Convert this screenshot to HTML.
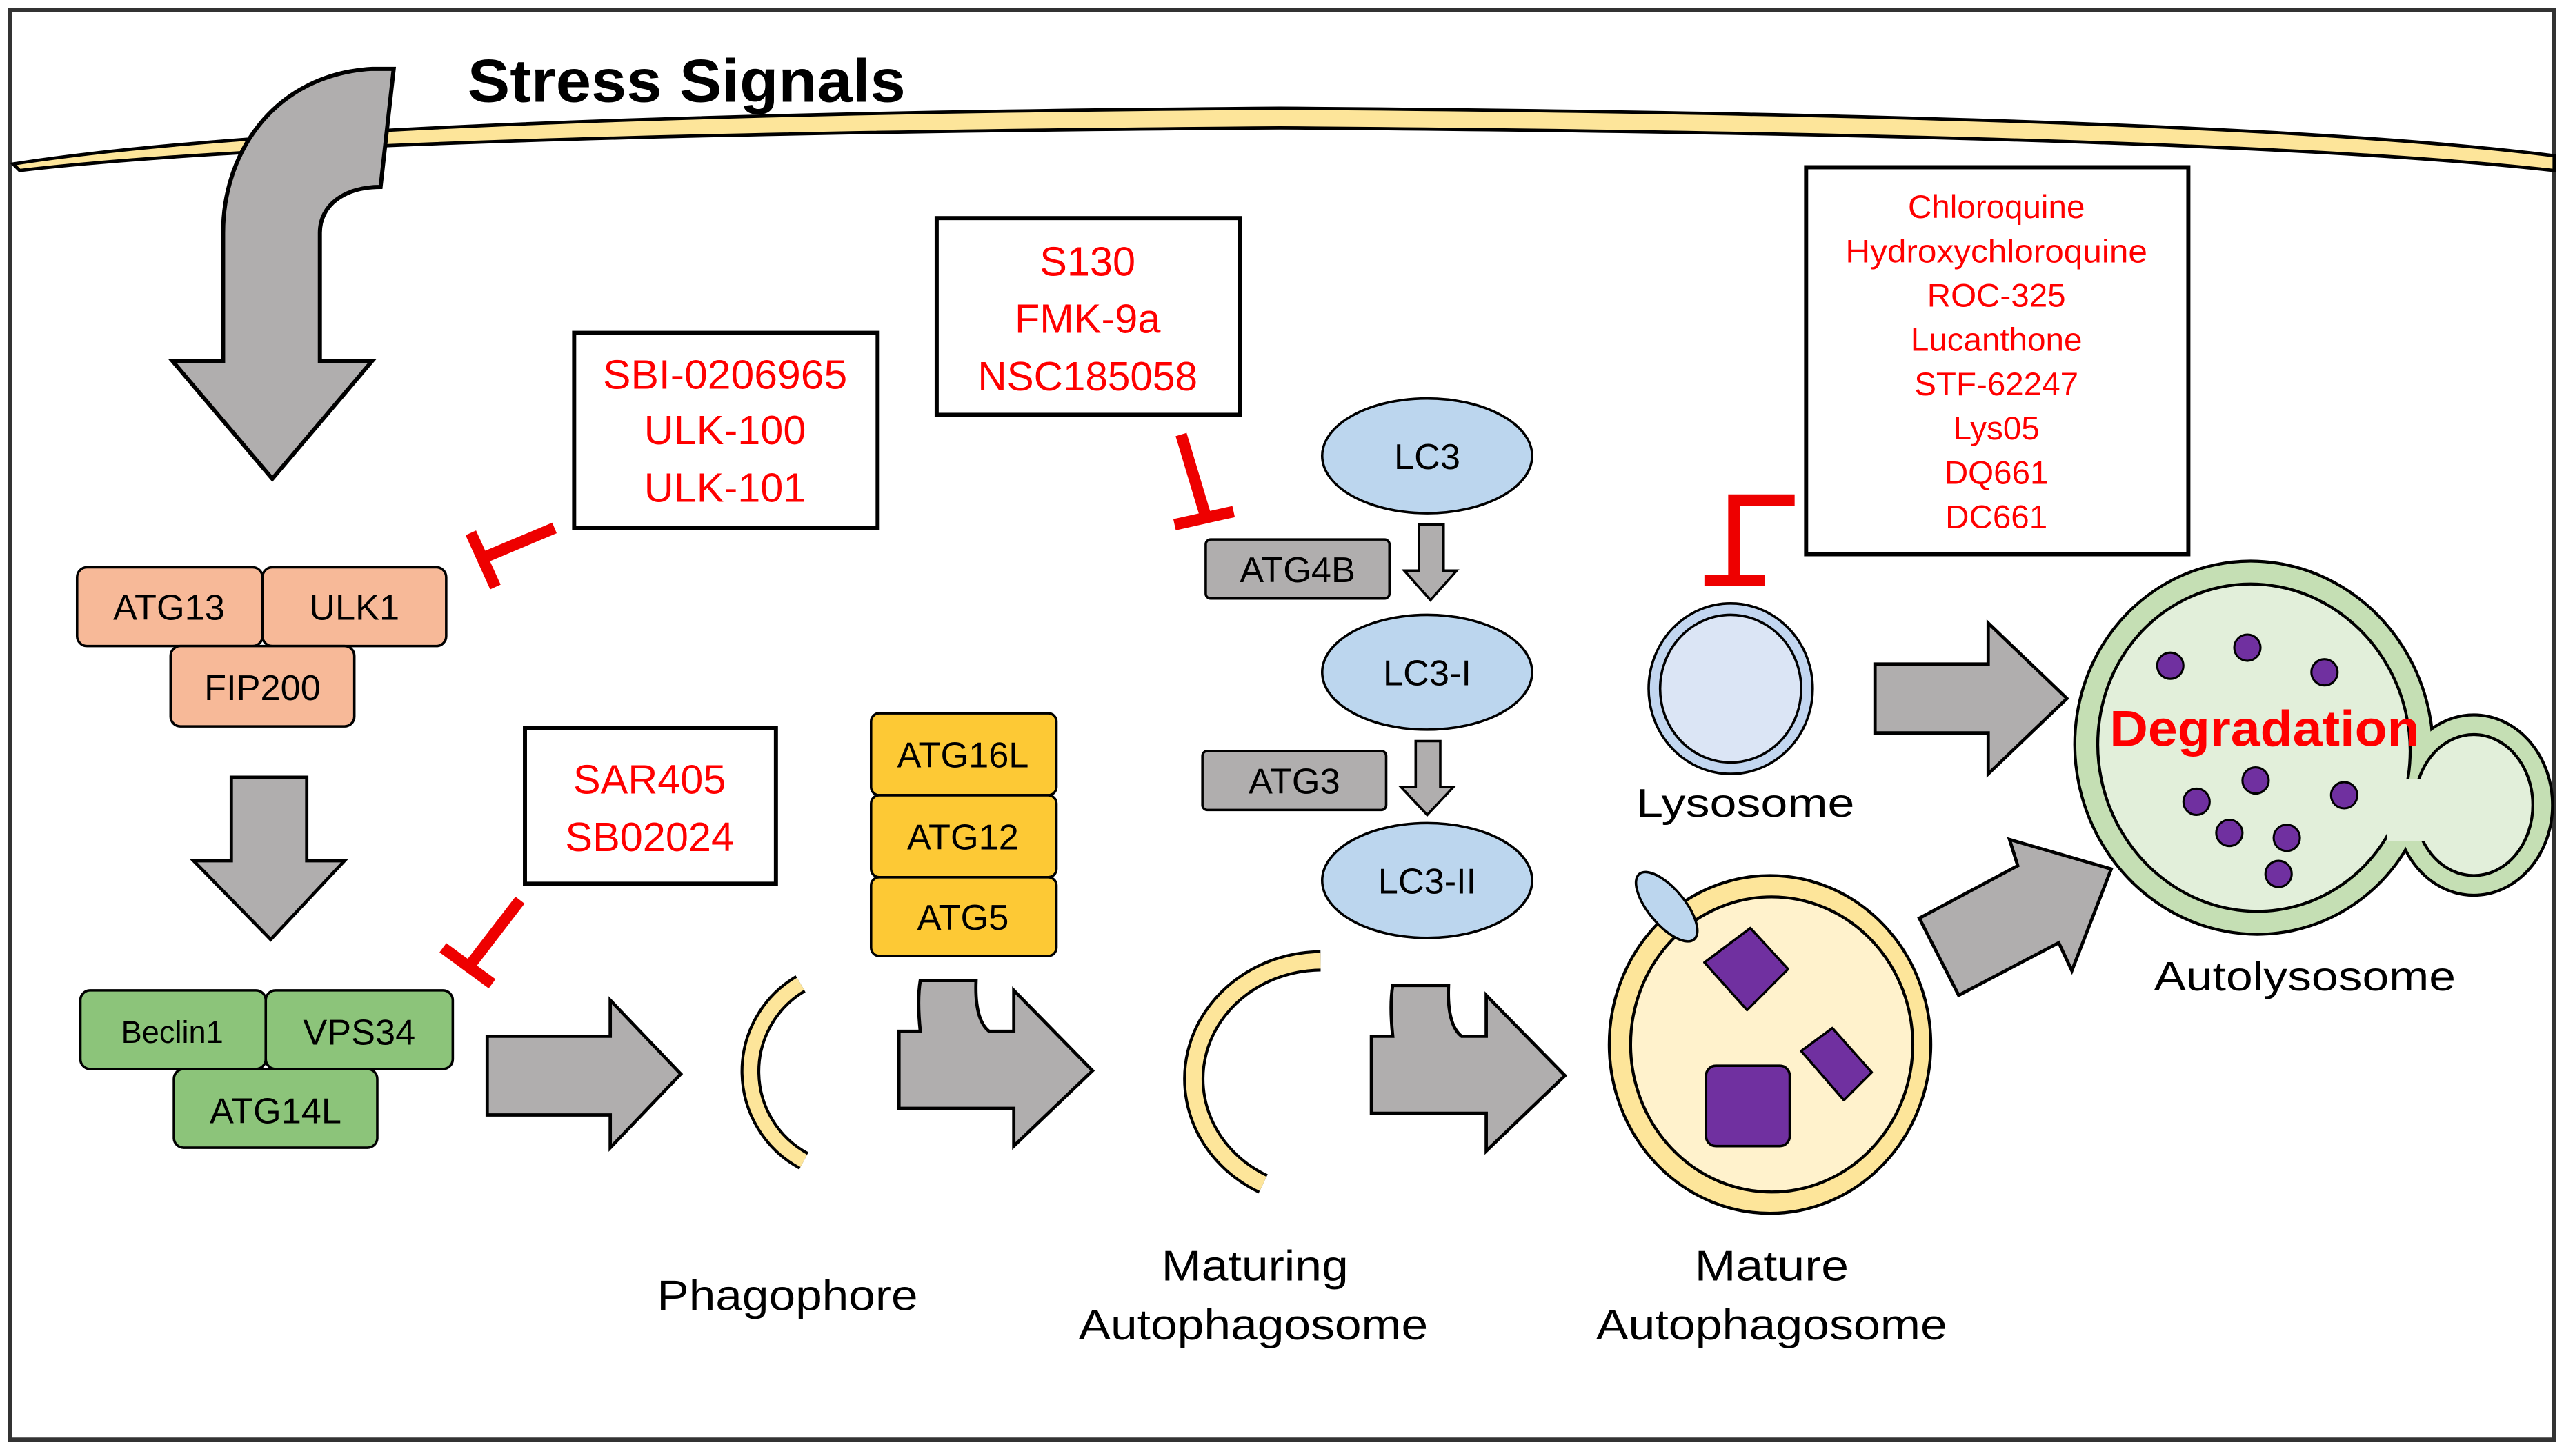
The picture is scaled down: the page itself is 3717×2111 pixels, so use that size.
<!DOCTYPE html>
<html><head><meta charset="utf-8"><style>
html,body{margin:0;padding:0;background:#fff;}
svg{display:block;}
text{font-family:"Liberation Sans",sans-serif;}
</style></head><body>
<svg width="3717" height="2111" viewBox="0 0 1563 888" preserveAspectRatio="none" xmlns="http://www.w3.org/2000/svg">
<rect x="0" y="0" width="1563" height="888" fill="#fff"/>
<rect x="6" y="6" width="1551" height="872" fill="none" stroke="#333" stroke-width="2.5"/>
<!-- membrane -->
<path d="M8 100 Q200 70 780 66 Q1360 70 1557 95 L1557 104 Q1360 82 780 78 Q200 82 12 104 Z" fill="#fde59a" stroke="#000" stroke-width="2"/>
<text x="285" y="62" font-size="37" font-weight="bold" textLength="267" lengthAdjust="spacingAndGlyphs">Stress Signals</text>
<!-- big curved arrow -->
<path d="M227 42 C170 45 136 90 136 142 L136 220 L105 220 L166 292 L227 220 L195 220 L195 142 C195 125 210 114 232 114 L240 42 Z" fill="#b0aeae" stroke="#000" stroke-width="2.5"/>
<!-- inhibitor boxes -->
<g fill="#fff" stroke="#000" stroke-width="2.5">
<rect x="350" y="203" width="185" height="119"/>
<rect x="571" y="133" width="185" height="120"/>
<rect x="320" y="444" width="153" height="95"/>
<rect x="1101" y="102" width="233" height="236"/>
</g>
<g fill="#f00" text-anchor="middle" font-size="25">
<text x="442" y="237" textLength="149" lengthAdjust="spacingAndGlyphs">SBI-0206965</text><text x="442" y="271">ULK-100</text><text x="442" y="306">ULK-101</text>
<text x="663" y="168">S130</text><text x="663" y="203">FMK-9a</text><text x="663" y="238" textLength="134" lengthAdjust="spacingAndGlyphs">NSC185058</text>
<text x="396" y="484">SAR405</text><text x="396" y="519">SB02024</text>
</g>
<g fill="#f00" text-anchor="middle" font-size="20">
<text x="1217" y="133">Chloroquine</text><text x="1217" y="160" textLength="184" lengthAdjust="spacingAndGlyphs">Hydroxychloroquine</text><text x="1217" y="187">ROC-325</text><text x="1217" y="214">Lucanthone</text><text x="1217" y="241">STF-62247</text><text x="1217" y="268">Lys05</text><text x="1217" y="295">DQ661</text><text x="1217" y="322">DC661</text>
</g>
<!-- T bars -->
<g stroke="#e00" stroke-width="7" fill="none" stroke-linecap="butt">
<path d="M338 322 L295 340"/><path d="M287 325 L302 358"/>
<path d="M720 265 L735 315"/><path d="M716 320 L752 312"/>
<path d="M317 549 L287 588"/><path d="M270 578 L300 600"/>
<path d="M1094 305 L1057 305 L1057 352"/><path d="M1039 354 L1076 354"/>
</g>
<!-- ULK complex -->
<g stroke="#000" stroke-width="1.5" fill="#f7b998">
<rect x="47" y="346" width="113" height="48" rx="6"/>
<rect x="160" y="346" width="112" height="48" rx="6"/>
<rect x="104" y="394" width="112" height="49" rx="6"/>
</g>
<g font-size="22" text-anchor="middle">
<text x="103" y="378">ATG13</text><text x="216" y="378">ULK1</text><text x="160" y="427">FIP200</text>
</g>
<path d="M141 474 L187 474 L187 525 L210 525 L165 573 L118 525 L141 525 Z" fill="#b0aeae" stroke="#000" stroke-width="2"/>
<!-- PI3K complex -->
<g stroke="#000" stroke-width="1.5" fill="#8cc47a">
<rect x="49" y="604" width="113" height="48" rx="6"/>
<rect x="162" y="604" width="114" height="48" rx="6"/>
<rect x="106" y="652" width="124" height="48" rx="6"/>
</g>
<g font-size="22" text-anchor="middle">
<text x="105" y="636" font-size="19">Beclin1</text><text x="219" y="637">VPS34</text><text x="168" y="685">ATG14L</text>
</g>
<!-- arrow1 -->
<path d="M297 632 L372 632 L372 610 L415 655 L372 700 L372 680 L297 680 Z" fill="#b0aeae" stroke="#000" stroke-width="2"/>
<!-- phagophore -->
<path d="M488 600 A62 62 0 0 0 490 708" fill="none" stroke="#000" stroke-width="12"/>
<path d="M488 600 A62 62 0 0 0 490 708" fill="none" stroke="#fde59a" stroke-width="8.5"/>
<!-- ATG16L stack -->
<g stroke="#000" stroke-width="1.5" fill="#fdc935">
<rect x="531" y="435" width="113" height="50" rx="5"/>
<rect x="531" y="485" width="113" height="50" rx="5"/>
<rect x="531" y="535" width="113" height="48" rx="5"/>
</g>
<g font-size="22" text-anchor="middle">
<text x="587" y="468">ATG16L</text><text x="587" y="518">ATG12</text><text x="587" y="567">ATG5</text>
</g>
<!-- notched arrows -->
<path id="na" d="M548 629 L561 629 Q559 610 561 598 L595 598 Q594 622 603 629 L618 629 L618 604 L666 653 L618 699 L618 676 L548 676 Z" fill="#b0aeae" stroke="#000" stroke-width="2"/>
<path d="M548 629 L561 629 Q559 610 561 598 L595 598 Q594 622 603 629 L618 629 L618 604 L666 653 L618 699 L618 676 L548 676 Z" transform="translate(288 3)" fill="#b0aeae" stroke="#000" stroke-width="2"/>
<!-- maturing autophagosome -->
<path d="M805 586 A78 72 0 0 0 770 722" fill="none" stroke="#000" stroke-width="13"/>
<path d="M805 586 A78 72 0 0 0 770 722" fill="none" stroke="#fde59a" stroke-width="9.5"/>
<!-- LC3 -->
<g fill="#bcd6ee" stroke="#000" stroke-width="1.5">
<ellipse cx="870" cy="278" rx="64" ry="35"/>
<ellipse cx="870" cy="410" rx="64" ry="35"/>
<ellipse cx="870" cy="537" rx="64" ry="35"/>
</g>
<g font-size="22" text-anchor="middle">
<text x="870" y="286">LC3</text><text x="870" y="418">LC3-I</text><text x="870" y="545">LC3-II</text>
</g>
<g fill="#b0aeae" stroke="#000" stroke-width="1.5">
<path d="M865 320 L880 320 L880 348 L888 348 L872 366 L856 348 L865 348 Z"/>
<path d="M863 452 L878 452 L878 480 L886 480 L870 497 L854 480 L863 480 Z"/>
</g>
<g fill="#b0aeae" stroke="#000" stroke-width="1.5">
<rect x="735" y="329" width="112" height="36" rx="3"/>
<rect x="733" y="458" width="112" height="36" rx="3"/>
</g>
<g font-size="22" text-anchor="middle"><text x="791" y="355">ATG4B</text><text x="789" y="484">ATG3</text></g>
<!-- lysosome -->
<ellipse cx="1055" cy="420" rx="50" ry="52" fill="#c2d6f0" stroke="#000" stroke-width="1.5"/>
<ellipse cx="1055" cy="420" rx="43" ry="45" fill="#dbe5f5" stroke="#000" stroke-width="1.5"/>
<text x="1064" y="498" font-size="24" text-anchor="middle" textLength="133" lengthAdjust="spacingAndGlyphs">Lysosome</text>
<!-- mature autophagosome -->
<ellipse cx="1079" cy="637" rx="98" ry="103" fill="#fde59a" stroke="#000" stroke-width="1.8"/>
<ellipse cx="1080" cy="637" rx="86" ry="90" fill="#fff2cc" stroke="#000" stroke-width="1.8"/>
<ellipse cx="1016" cy="553" rx="11" ry="26" transform="rotate(-40 1016 553)" fill="#bcd6ee" stroke="#000" stroke-width="1.5"/>
<g fill="#7030a0" stroke="#000" stroke-width="1.5" stroke-linejoin="round">
<path d="M1039 587 L1067 566 L1090 591 L1065 616 Z"/>
<path d="M1098 641 L1117 627 L1141 654 L1124 671 Z"/>
<rect x="1040" y="650" width="51" height="49" rx="6"/>
</g>
<!-- arrows to autolysosome -->
<path d="M1143 405 L1212 405 L1212 380 L1260 426 L1212 472 L1212 447 L1143 447 Z" fill="#b0aeae" stroke="#000" stroke-width="2"/>
<path d="M1170 560 L1230 528 L1225 512 L1287 530 L1263 592 L1255 575 L1194 607 Z" fill="#b0aeae" stroke="#000" stroke-width="2"/>
<!-- autolysosome -->
<g stroke="#000" stroke-width="1.8" fill="#c5dfb4">
<ellipse cx="1374" cy="456" rx="109" ry="114" transform="rotate(-12 1374 456)"/>
<ellipse cx="1508" cy="491" rx="48" ry="55"/>
</g>
<g fill="#c5dfb4">
<ellipse cx="1374" cy="456" rx="108" ry="113" transform="rotate(-12 1374 456)"/>
<ellipse cx="1508" cy="491" rx="47" ry="54"/>
</g>
<g stroke="#000" stroke-width="1.8" fill="#e2efda">
<ellipse cx="1374" cy="456" rx="95" ry="100" transform="rotate(-12 1374 456)"/>
<ellipse cx="1508" cy="491" rx="36" ry="43"/>
</g>
<g fill="#e2efda">
<ellipse cx="1374" cy="456" rx="94" ry="99" transform="rotate(-12 1374 456)"/>
<ellipse cx="1508" cy="491" rx="35" ry="42"/>
<rect x="1455" y="475" width="40" height="38"/>
</g>
<g fill="#7030a0" stroke="#000" stroke-width="1.3">
<circle cx="1323" cy="406" r="8"/><circle cx="1370" cy="395" r="8"/><circle cx="1417" cy="410" r="8"/>
<circle cx="1375" cy="476" r="8"/><circle cx="1339" cy="489" r="8"/><circle cx="1429" cy="485" r="8"/>
<circle cx="1359" cy="508" r="8"/><circle cx="1394" cy="511" r="8"/><circle cx="1389" cy="533" r="8"/>
</g>
<text x="1286" y="455" font-size="31" font-weight="bold" fill="#f00" textLength="189" lengthAdjust="spacingAndGlyphs">Degradation</text>
<text x="1405" y="604" font-size="25" text-anchor="middle" textLength="184" lengthAdjust="spacingAndGlyphs">Autolysosome</text>
<g font-size="26" text-anchor="middle">
<text x="480" y="799" textLength="159" lengthAdjust="spacingAndGlyphs">Phagophore</text>
<text x="765" y="781" textLength="114" lengthAdjust="spacingAndGlyphs">Maturing</text><text x="764" y="817" textLength="213" lengthAdjust="spacingAndGlyphs">Autophagosome</text>
<text x="1080" y="781" textLength="94" lengthAdjust="spacingAndGlyphs">Mature</text><text x="1080" y="817" textLength="214" lengthAdjust="spacingAndGlyphs">Autophagosome</text>
</g>
</svg>
</body></html>
